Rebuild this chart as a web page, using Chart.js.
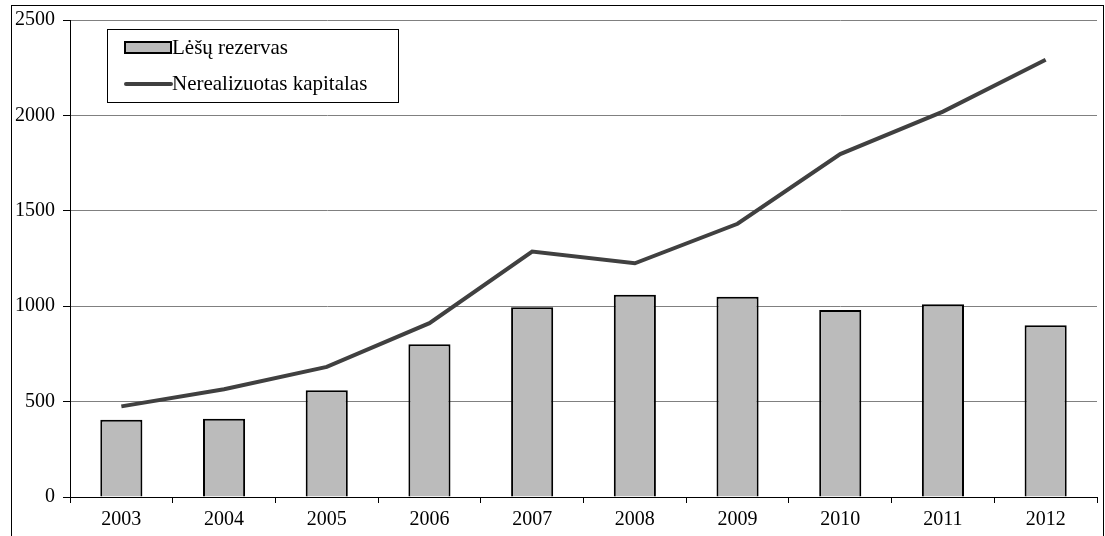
<!DOCTYPE html>
<html>
<head>
<meta charset="utf-8">
<script src="https://cdn.jsdelivr.net/npm/chart.js@4"></script>
<style>
  html, body { margin: 0; padding: 0; background: #fff; }
  #wrap { width: 1105px; height: 536px; }
</style>
</head>
<body>
<div id="wrap"><canvas id="chart"></canvas></div>
<script>
const metai = ["2003", "2004", "2005", "2006", "2007", "2008", "2009", "2010", "2011", "2012"];
const lesuRezervas = [405, 410, 560, 800, 995, 1060, 1050, 980, 1010, 900];
const nerealizuotasKapitalas = [475, 565, 682, 911, 1286, 1225, 1432, 1797, 2020, 2292];
const yTicks = [0, 500, 1000, 1500, 2000, 2500];

const fontas = "'Liberation Serif', 'Times New Roman', serif";

// remelis ir legenda
const remelis = {
  id: "remelis",
  afterDraw(chart) {
    const ctx = chart.ctx;
    ctx.save();
    ctx.strokeStyle = "#000";
    ctx.lineWidth = 1;
    ctx.strokeRect(11.5, 5.5, 1092, 560);

    // legenda
    ctx.fillStyle = "#fff";
    ctx.fillRect(107.5, 29.5, 291, 73);
    ctx.strokeRect(107.5, 29.5, 291, 73);
    const ds = chart.data.datasets;
    ctx.font = "21px " + fontas;
    ctx.textBaseline = "middle";
    ctx.textAlign = "left";

    ctx.fillStyle = ds[0].backgroundColor;
    ctx.fillRect(125, 42, 46, 11);
    ctx.lineWidth = 2;
    ctx.strokeStyle = "#000";
    ctx.strokeRect(125, 42, 46, 11);
    ctx.fillStyle = "#000";
    ctx.fillText(ds[0].label, 172, 48);

    ctx.strokeStyle = ds[1].borderColor;
    ctx.lineWidth = 4;
    ctx.lineCap = "round";
    ctx.beginPath();
    ctx.moveTo(126, 84);
    ctx.lineTo(171, 84);
    ctx.stroke();
    ctx.fillText(ds[1].label, 172, 84);
    ctx.restore();
  }
};

new Chart(document.getElementById("chart").getContext("2d"), {
  data: {
    labels: metai,
    datasets: [
      {
        type: "bar",
        label: "Lėšų rezervas",
        data: lesuRezervas,
        backgroundColor: "#bbbbbb",
        borderColor: "#000",
        borderWidth: 2,
        barPercentage: 0.41,
        categoryPercentage: 1,
        order: 1
      },
      {
        type: "line",
        label: "Nerealizuotas kapitalas",
        data: nerealizuotasKapitalas,
        borderColor: "#404040",
        borderWidth: 4,
        pointRadius: 0,
        tension: 0,
        order: 0
      }
    ]
  },
  options: {
    responsive: true,
    maintainAspectRatio: false,
    animation: false,
    layout: { padding: { left: 0, top: 17, right: 8, bottom: 0 } },
    plugins: { legend: { display: false }, tooltip: { enabled: false } },
    scales: {
      x: {
        offset: true,
        grid: { offset: true, drawOnChartArea: false, color: "#000", tickLength: 6 },
        border: { color: "#000", width: 1 },
        ticks: { color: "#000", font: { family: fontas, size: 20 }, padding: 5, maxRotation: 0 },
        afterFit(scale) { scale.height = 39; }
      },
      y: {
        min: 0,
        max: 2500,
        afterBuildTicks(scale) { scale.ticks = yTicks.map(v => ({ value: v })); },
        grid: { color: "#808080", tickLength: 7, tickColor: "#000" },
        border: { color: "#000", width: 1 },
        ticks: { color: "#000", font: { family: fontas, size: 20 }, padding: 8, callback: v => String(v) },
        afterFit(scale) { scale.width = 70; }
      }
    }
  },
  plugins: [remelis]
});
</script>
</body>
</html>
